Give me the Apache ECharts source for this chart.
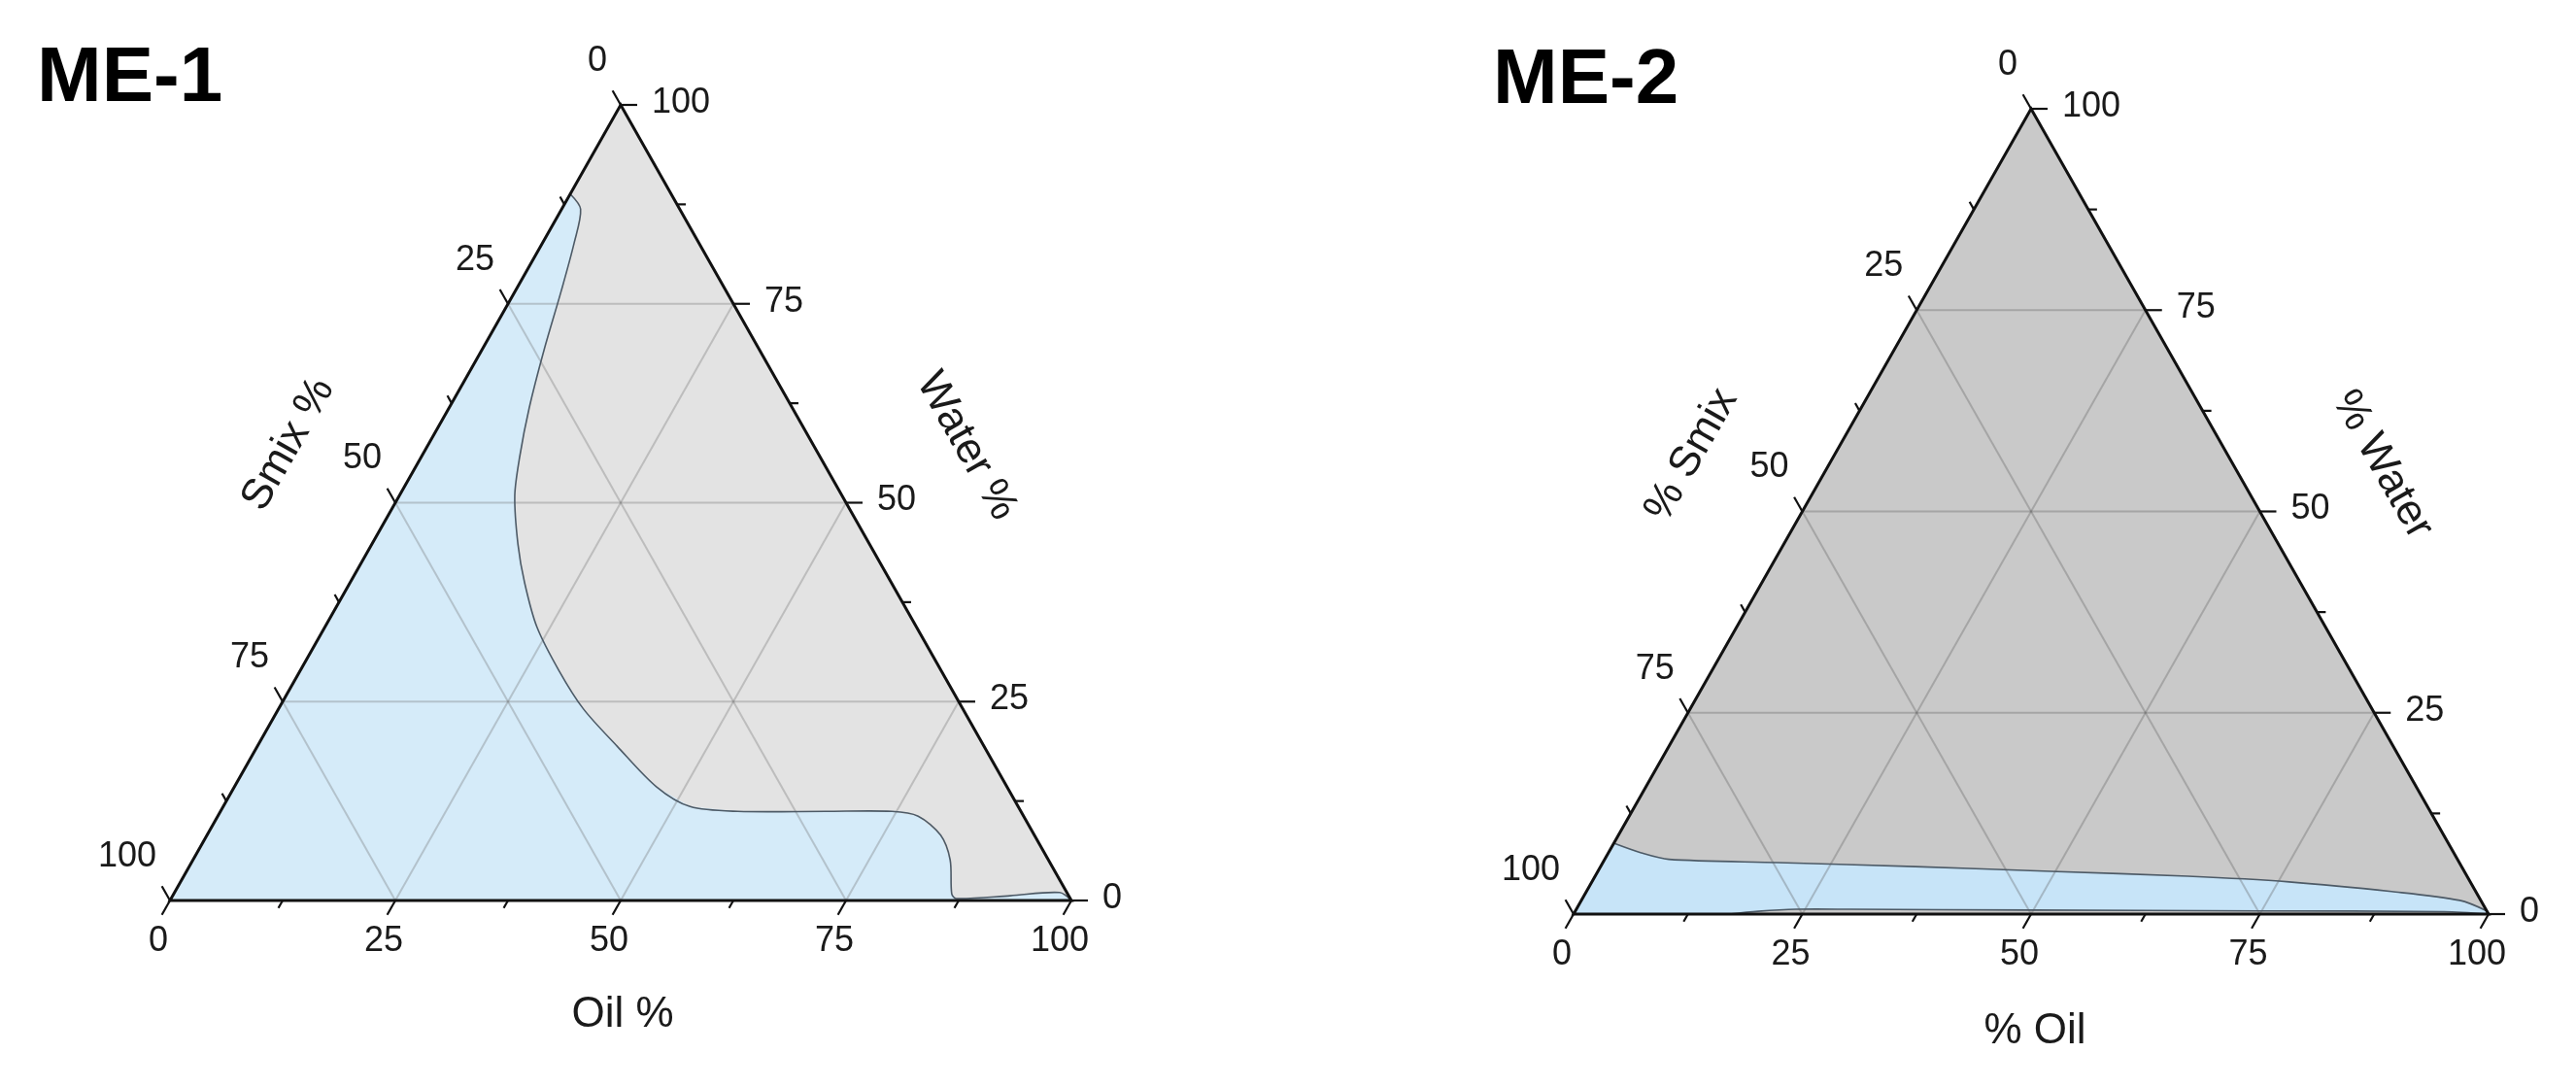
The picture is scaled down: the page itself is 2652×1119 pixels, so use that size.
<!DOCTYPE html>
<html>
<head>
<meta charset="utf-8">
<script src="https://cdn.jsdelivr.net/npm/echarts@6/dist/echarts.min.js"></script>
<style>
html,body{margin:0;padding:0;background:#ffffff;}
#chart{width:2652px;height:1119px;}
</style>
</head>
<body>
<div id="chart"></div>
<script>
// ---------------- DATA ----------------
const panelTitles = ['ME-1', 'ME-2'];
const me1AxisTitles = ['Oil %', 'Water %', 'Smix %'];
const me2AxisTitles = ['% Oil', '% Water', '% Smix'];

const tickValues = [0, 25, 50, 75, 100];
const tickLabels = ['0', '25', '50', '75', '100'];
const minorTickValues = [12.5, 37.5, 62.5, 87.5];
const gridValues = [25, 50, 75];

// ME-1 phase boundary, from the Smix edge down to the Oil axis (oil %, water %)
const me1BoundaryOil   = [0, 2.1, 3.5, 5.1, 6.9, 8.9, 10.9, 12.8, 16.2, 19.4, 23.5, 28.7, 33.8, 39.9, 46.8, 51.8, 57.4, 67.1, 74.5, 77.7, 81.4, 84.0, 86.3, 87.1, 92.9, 98.2, 100];
const me1BoundaryWater = [88.8, 86.9, 82.7, 76.6, 69.2, 61.9, 55.8, 50.9, 44.8, 39.9, 34.4, 28.9, 24.1, 19.4, 14.3, 11.8, 11.2, 11.2, 11.2, 10.6, 8.2, 5.1, 0.85, 0.25, 0.6, 1.0, 0];

// ME-2 upper phase boundary (oil %, water %)
const me2UpperOil   = [0, 3.6, 7.0, 19.2, 34.4, 49.5, 64.8, 76.2, 88.0, 96.0, 99.6, 100];
const me2UpperWater = [8.8, 7.6, 6.8, 6.4, 5.9, 5.3, 4.7, 4.0, 2.8, 1.7, 0.4, 0];
// ME-2 lower phase boundary (oil %, water %)
const me2LowerOil   = [17, 20, 24, 30, 50, 75, 95, 100];
const me2LowerWater = [0, 0.35, 0.6, 0.6, 0.5, 0.4, 0.3, 0];

// ---------------- HELPERS ----------------
function tern(oil, water) { return [oil + water / 2, water]; }
function zip(a, b) { return a.map((v, i) => [v, b[i]]); }

function makePanel(idx, cfg) {
  return {
    type: 'custom',
    xAxisIndex: idx,
    yAxisIndex: idx,
    silent: true,
    clip: false,
    data: [[0, 0]],
    renderItem: function (params, api) {
      const P = (o, w) => api.coord(tern(o, w));
      const pBL = P(0, 0), pBR = P(100, 0), pT = P(0, 100);
      const ch = [];
      const norm = (v) => { const l = Math.hypot(v[0], v[1]); return [v[0] / l, v[1] / l]; };
      const dBottom = norm([pBL[0] - pT[0], pBL[1] - pT[1]]);
      const dLeft = norm([pT[0] - pBR[0], pT[1] - pBR[1]]);
      const dRight = [1, 0];

      // fills
      ch.push({ type: 'polygon', shape: { points: [pBL, pBR, pT] }, style: { fill: cfg.gray } });
      ch.push({ type: 'polygon', shape: { points: cfg.blueRegion.map(p => P(p[0], p[1])) }, style: { fill: cfg.blue } });

      // grid lines
      const gl = (a, b) => ch.push({ type: 'line', shape: { x1: a[0], y1: a[1], x2: b[0], y2: b[1] },
        style: { stroke: cfg.gridColor, lineWidth: 2 } });
      gridValues.forEach(v => {
        gl(P(0, v), P(100 - v, v));
        gl(P(v, 0), P(v, 100 - v));
        gl(P(100 - v, 0), P(0, 100 - v));
      });

      // boundary curves
      cfg.curves.forEach(c => {
        ch.push({ type: 'polyline', shape: { points: c.map(p => P(p[0], p[1])), smooth: 0.3 },
          style: { stroke: '#4d5a66', lineWidth: 1.6, fill: null } });
      });

      // triangle edges
      ch.push({ type: 'polygon', shape: { points: [pBL, pBR, pT] },
        style: { fill: null, stroke: '#111111', lineWidth: 3, lineJoin: 'miter' } });

      // ticks
      const tk = (p, d, len) => ch.push({ type: 'line',
        shape: { x1: p[0], y1: p[1], x2: p[0] + d[0] * len, y2: p[1] + d[1] * len },
        style: { stroke: '#111111', lineWidth: 2.2 } });
      tickValues.forEach(v => {
        tk(P(v, 0), dBottom, 17);
        tk(P(100 - v, v), dRight, 17);
        tk(P(0, 100 - v), dLeft, 17);
      });
      minorTickValues.forEach(v => {
        tk(P(v, 0), dBottom, 9);
        tk(P(100 - v, v), dRight, 9);
        tk(P(0, 100 - v), dLeft, 9);
      });

      // tick labels
      const txt = (x, y, s, align, size, rot) => ch.push({ type: 'text', x: x, y: y, rotation: rot || 0,
        style: { text: s, fill: '#1a1a1a', fontSize: size, fontFamily: 'Liberation Sans, Arial, sans-serif',
          align: align, verticalAlign: 'middle' } });
      tickValues.forEach((v, i) => {
        const b = P(v, 0);
        txt(b[0] - 12, b[1] + 42, tickLabels[i], 'center', 36);
        const r = P(100 - v, v);
        txt(r[0] + 32, r[1] - 2, tickLabels[i], 'left', 36);
        const l = P(0, 100 - v);
        txt(l[0] - 14, l[1] - 45, tickLabels[i], 'right', 36);
      });

      // axis titles
      const angR = Math.atan2(pBR[1] - pT[1], pBR[0] - pT[0]);
      const angL = Math.atan2(pBL[1] - pT[1], pT[0] - pBL[0]);
      const mB = [(pBL[0] + pBR[0]) / 2, (pBL[1] + pBR[1]) / 2];
      const mR = [(pBR[0] + pT[0]) / 2, (pBR[1] + pT[1]) / 2];
      const mL = [(pBL[0] + pT[0]) / 2, (pBL[1] + pT[1]) / 2];
      const o = cfg.titleOffsets;
      txt(mB[0] + o[0][0], mB[1] + o[0][1], cfg.axisTitles[0], 'center', 44, 0);
      txt(mR[0] + o[1][0], mR[1] + o[1][1], cfg.axisTitles[1], 'center', 44, -angR);
      txt(mL[0] + o[2][0], mL[1] + o[2][1], cfg.axisTitles[2], 'center', 44, angL);

      return { type: 'group', children: ch };
    }
  };
}

// blue region polygons built from the boundary data
const me1Curve = zip(me1BoundaryOil, me1BoundaryWater);
const me1Blue = [[0, 0]].concat(me1Curve);
const me2Upper = zip(me2UpperOil, me2UpperWater);
const me2Lower = zip(me2LowerOil, me2LowerWater);
const me2Blue = [[0, 0]].concat(me2Upper).concat(me2Lower.slice().reverse());

const chart = echarts.init(document.getElementById('chart'), null, { renderer: 'canvas' });
chart.setOption({
  animation: false,
  backgroundColor: '#ffffff',
  title: [
    { text: panelTitles[0], left: 38, top: 42, padding: 0,
      textStyle: { fontSize: 80, fontWeight: 'bold', color: '#000', fontFamily: 'Liberation Sans, Arial, sans-serif', lineHeight: 80 } },
    { text: panelTitles[1], left: 1537, top: 44, padding: 0,
      textStyle: { fontSize: 80, fontWeight: 'bold', color: '#000', fontFamily: 'Liberation Sans, Arial, sans-serif', lineHeight: 80 } }
  ],
  grid: [
    { left: 175, top: 108, width: 928, height: 819 },
    { left: 1620, top: 112, width: 942, height: 829 }
  ],
  xAxis: [
    { type: 'value', gridIndex: 0, min: 0, max: 100, show: false },
    { type: 'value', gridIndex: 1, min: 0, max: 100, show: false }
  ],
  yAxis: [
    { type: 'value', gridIndex: 0, min: 0, max: 100, show: false },
    { type: 'value', gridIndex: 1, min: 0, max: 100, show: false }
  ],
  series: [
    makePanel(0, {
      gray: '#e3e3e3', blue: '#d5ebf9', gridColor: 'rgba(110,110,110,0.32)',
      blueRegion: me1Blue, curves: [me1Curve], axisTitles: me1AxisTitles,
      titleOffsets: [[2, 118], [124, -58], [-110, -60]]
    }),
    makePanel(1, {
      gray: '#c9c9c9', blue: '#c7e4f8', gridColor: 'rgba(90,90,90,0.32)',
      blueRegion: me2Blue, curves: [me2Upper, me2Lower], axisTitles: me2AxisTitles,
      titleOffsets: [[4, 121], [126, -48], [-114, -58]]
    })
  ]
});
</script>
</body>
</html>
